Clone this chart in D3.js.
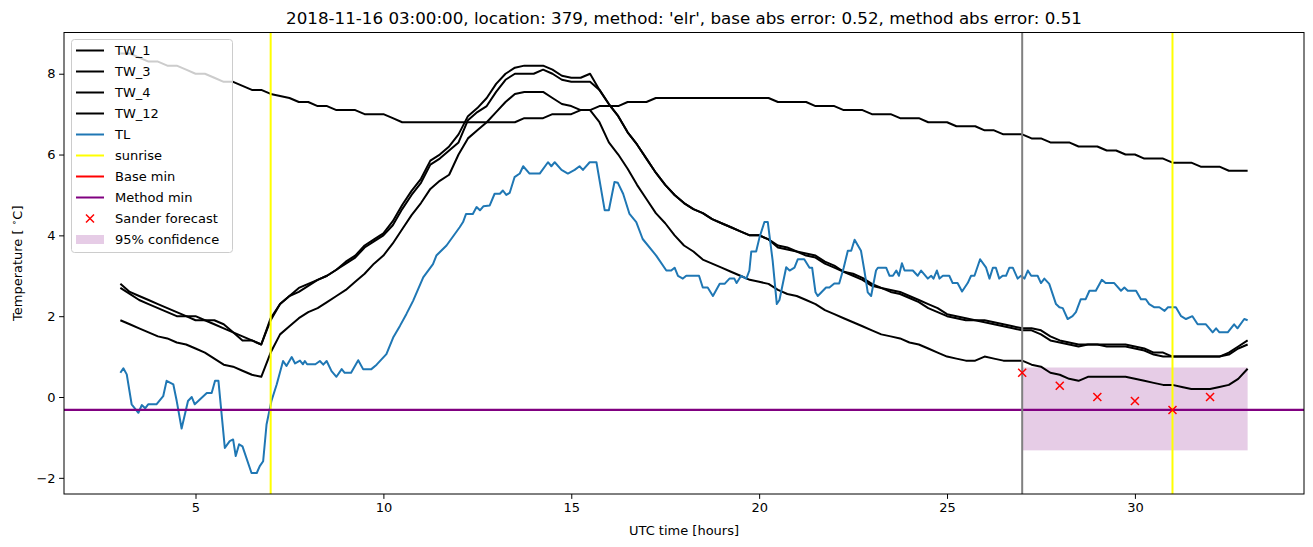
<!DOCTYPE html>
<html><head><meta charset="utf-8">
<script src="https://cdn.jsdelivr.net/npm/d3@7"></script>
<style>body{margin:0;background:#fff}svg{display:block}text{font-family:"DejaVu Sans",sans-serif}</style>
</head><body><svg id="c" width="1313" height="547"></svg>
<script>
const titleText = "2018-11-16 03:00:00, location: 379, method: 'elr', base abs error: 0.52, method abs error: 0.51";
const xTicks = [5, 10, 15, 20, 25, 30];
const yTicks = [-2, 0, 2, 4, 6, 8];
const twHours = [3,3.25,3.5,3.75,4,4.25,4.5,4.75,5,5.25,5.5,5.75,6,6.25,6.5,6.75,7,7.25,7.5,7.75,8,8.25,8.5,8.75,9,9.25,9.5,9.75,10,10.25,10.5,10.75,11,11.25,11.5,11.75,12,12.25,12.5,12.75,13,13.25,13.5,13.75,14,14.25,14.5,14.75,15,15.25,15.5,15.75,16,16.25,16.5,16.75,17,17.25,17.5,17.75,18,18.25,18.5,18.75,19,19.25,19.5,19.75,20,20.25,20.5,20.75,21,21.25,21.5,21.75,22,22.25,22.5,22.75,23,23.25,23.5,23.75,24,24.25,24.5,24.75,25,25.25,25.5,25.75,26,26.25,26.5,26.75,27,27.25,27.5,27.75,28,28.25,28.5,28.75,29,29.25,29.5,29.75,30,30.25,30.5,30.75,31,31.25,31.5,31.75,32,32.25,32.5,32.75,33];
const tw1 = [2.8,2.6,2.5,2.4,2.3,2.2,2.1,2.0,2.0,1.9, 1.9,1.8,1.6,1.5,1.4,1.3,1.95,2.3,2.5,2.7, 2.8,2.9,3.0,3.15,3.35,3.5,3.75,3.9,4.05,4.35, 4.75,5.1,5.4,5.85,6.0,6.2,6.5,6.95,7.15,7.4, 7.75,8.0,8.15,8.2,8.2,8.2,8.1,7.95,7.9,7.9, 8.0,7.6,7.25,6.95,6.55,6.25,5.9,5.55,5.25,5.0, 4.8,4.65,4.55,4.4,4.3,4.2,4.1,4.0,4.0,3.9, 3.75,3.7,3.6,3.55,3.5,3.35,3.25,3.1,3.05,2.95, 2.8,2.7,2.65,2.6,2.5,2.4,2.3,2.2,2.05,2.0, 1.95,1.9,1.9,1.85,1.8,1.75,1.7,1.7,1.65,1.5, 1.4,1.35,1.3,1.3,1.3,1.3,1.3,1.3,1.25,1.2, 1.1,1.1,1.0,1.0,1.0,1.0,1.0,1.0,1.1,1.25,1.4];
const tw3 = [2.7,2.55,2.4,2.3,2.2,2.1,2.0,2.0,1.9,1.9, 1.8,1.7,1.6,1.4,1.4,1.3,1.9,2.3,2.5,2.6, 2.75,2.9,3.0,3.15,3.3,3.45,3.7,3.85,4.0,4.25, 4.65,5.0,5.3,5.75,5.9,6.1,6.3,6.85,7.05,7.2, 7.55,7.85,8.0,8.0,8.0,8.1,8.0,7.85,7.8,7.8, 7.8,7.6,7.25,6.95,6.55,6.25,5.9,5.55,5.25,5.0, 4.8,4.65,4.55,4.4,4.3,4.2,4.1,4.0,4.0,3.9, 3.7,3.65,3.6,3.5,3.45,3.3,3.2,3.1,3.0,2.9, 2.75,2.7,2.6,2.55,2.45,2.35,2.2,2.1,2.0,1.95, 1.9,1.9,1.85,1.8,1.75,1.7,1.65,1.65,1.55,1.4, 1.35,1.3,1.25,1.3,1.3,1.25,1.25,1.25,1.2,1.15, 1.05,1.0,1.0,1.0,1.0,1.0,1.0,1.0,1.05,1.2,1.3];
const tw4 = [1.9,1.8,1.7,1.6,1.5,1.45,1.35,1.3,1.2,1.1, 0.95,0.8,0.75,0.65,0.55,0.5,1.1,1.55,1.75,1.95, 2.1,2.2,2.35,2.5,2.65,2.85,3.05,3.3,3.5,3.8, 4.15,4.5,4.8,5.15,5.35,5.5,6.0,6.4,6.6,6.8, 7.05,7.3,7.5,7.55,7.55,7.55,7.4,7.25,7.2,7.1, 7.1,6.8,6.3,6.0,5.65,5.25,4.9,4.55,4.3,4.0, 3.75,3.6,3.4,3.3,3.2,3.1,3.0,2.9,2.85,2.8, 2.65,2.55,2.5,2.4,2.3,2.15,2.05,1.95,1.85,1.75, 1.65,1.55,1.5,1.45,1.35,1.3,1.2,1.1,1.0,0.95, 0.9,0.9,1.0,0.95,0.9,0.9,0.9,0.8,0.75,0.6, 0.55,0.45,0.4,0.5,0.5,0.5,0.5,0.5,0.45,0.4, 0.35,0.3,0.3,0.25,0.2,0.2,0.2,0.25,0.3,0.45,0.7];
const tw12 = [8.5,8.5,8.4,8.3,8.3,8.2,8.2,8.1,8.0,8.0, 7.9,7.8,7.8,7.7,7.6,7.6,7.5,7.45,7.4,7.3, 7.3,7.2,7.2,7.1,7.1,7.1,7.0,7.0,7.0,6.9, 6.8,6.8,6.8,6.8,6.8,6.8,6.8,6.8,6.8,6.8, 6.8,6.8,6.8,6.9,6.9,6.9,7.0,7.0,7.0,7.1, 7.1,7.2,7.2,7.2,7.3,7.3,7.3,7.4,7.4,7.4, 7.4,7.4,7.4,7.4,7.4,7.4,7.4,7.4,7.4,7.4, 7.3,7.3,7.3,7.3,7.2,7.2,7.2,7.1,7.1,7.1, 7.0,7.0,7.0,6.9,6.9,6.9,6.8,6.8,6.8,6.7, 6.7,6.7,6.6,6.6,6.5,6.5,6.5,6.4,6.4,6.3, 6.3,6.3,6.2,6.2,6.2,6.1,6.1,6.0,6.0,5.9, 5.9,5.9,5.8,5.8,5.8,5.7,5.7,5.7,5.6,5.6,5.6];
const tlHours = [3.0,3.08,3.17,3.3,3.48,3.57,3.66,3.74,3.96,4.14,4.23,4.41,4.5,4.63,4.8,4.9,4.98,5.3,5.43,5.52,5.61,5.78,5.91,6.0,6.07,6.16,6.25,6.49,6.63,6.71,6.8,6.89,7.02,7.16,7.33,7.42,7.56,7.65,7.78,7.86,7.91,7.97,8.19,8.31,8.4,8.49,8.62,8.75,8.89,8.97,9.14,9.33,9.46,9.68,9.82,10.08,10.26,10.44,10.61,10.79,11.06,11.32,11.41,11.68,12.03,12.12,12.2,12.38,12.48,12.57,12.66,12.83,12.96,13.1,13.18,13.27,13.36,13.49,13.63,13.72,13.89,14.16,14.38,14.47,14.56,14.74,14.91,15.09,15.22,15.31,15.49,15.67,15.89,16.0,16.15,16.24,16.38,16.55,16.73,16.9,17.26,17.53,17.66,17.75,17.84,17.97,18.06,18.4,18.5,18.63,18.77,18.95,19.08,19.21,19.34,19.4,19.52,19.66,19.74,19.79,19.92,20.01,20.14,20.23,20.36,20.47,20.54,20.72,20.81,20.94,21.03,21.2,21.34,21.41,21.5,21.56,21.78,21.87,22.0,22.13,22.25,22.36,22.45,22.54,22.71,22.8,22.89,22.98,23.11,23.16,23.38,23.47,23.56,23.65,23.72,23.8,23.87,24.09,24.22,24.31,24.49,24.58,24.64,24.73,24.8,24.89,25.06,25.15,25.28,25.4,25.55,25.64,25.73,25.88,26.04,26.13,26.22,26.3,26.39,26.48,26.57,26.66,26.75,26.88,26.97,27.06,27.15,27.24,27.41,27.5,27.59,27.72,27.9,27.99,28.08,28.21,28.34,28.43,28.56,28.69,28.79,28.96,29.12,29.22,29.45,29.63,29.72,29.81,30.03,30.16,30.29,30.38,30.52,30.65,30.79,30.88,31.09,31.23,31.36,31.53,31.67,31.89,32.07,32.16,32.25,32.47,32.64,32.73,32.91,33.0];
const tlTemps = [0.6,0.71,0.56,-0.18,-0.39,-0.2,-0.28,-0.18,-0.18,0.02,0.4,0.31,-0.1,-0.78,-0.1,0.0,-0.18,0.1,0.1,0.4,0.4,-1.26,-1.09,-1.05,-1.46,-1.17,-1.22,-1.88,-1.88,-1.71,-1.59,-0.68,-0.1,0.31,0.89,0.77,0.99,0.83,0.9,0.81,0.89,0.81,0.81,0.89,0.8,0.89,0.64,0.5,0.69,0.6,0.6,0.91,0.69,0.69,0.8,1.06,1.47,1.76,2.05,2.38,2.96,3.29,3.5,3.75,4.2,4.33,4.53,4.53,4.7,4.62,4.72,4.74,5.03,5.03,5.11,5.0,5.05,5.44,5.53,5.71,5.53,5.53,5.81,5.71,5.81,5.62,5.53,5.62,5.71,5.62,5.81,5.81,4.62,4.62,5.32,5.3,5.03,4.53,4.33,3.91,3.5,3.13,3.13,3.2,3.0,2.93,3.0,3.0,2.71,2.71,2.5,2.8,2.8,2.93,2.93,2.82,3.0,2.93,3.13,3.6,3.6,3.95,4.33,4.33,3.37,2.3,2.4,3.21,3.13,3.2,3.41,3.41,3.2,3.2,2.59,2.5,2.71,2.71,2.81,2.81,3.2,3.62,3.62,3.89,3.62,3.13,2.59,2.5,3.13,3.2,3.2,3.0,3.0,3.13,3.0,3.31,3.13,3.13,3.0,3.13,2.93,3.0,2.93,3.13,2.93,3.0,3.0,2.82,2.82,2.61,2.82,3.0,3.0,3.41,3.2,2.93,3.2,3.2,2.93,3.0,3.0,3.2,3.2,2.93,3.0,2.93,3.13,3.0,3.0,2.82,2.93,2.8,2.3,2.22,2.2,1.93,2.0,2.1,2.42,2.42,2.63,2.63,2.9,2.82,2.82,2.63,2.71,2.63,2.63,2.42,2.42,2.3,2.22,2.22,2.13,2.22,2.22,2.0,1.93,2.0,1.8,1.8,1.6,1.7,1.6,1.6,1.8,1.7,1.93,1.9];
const sunriseHours = [7, 31];
const forecastTime = 27;
const baseMin = -0.32;
const methodMin = -0.32;
const sanderHours = [27, 28, 29, 30, 31, 32];
const sanderTemps = [0.6, 0.28, 0.0, -0.1, -0.32, 0.0];
const confHours = [27, 33];
const confRange = [-1.32, 0.73];
const legendLabels = ["TW_1", "TW_3", "TW_4", "TW_12", "TL", "sunrise", "Base min", "Method min", "Sander forecast", "95% confidence"];

const svg = d3.select("#c");
const L = 64, R = 1304, T = 32.5, B = 494;
const x = d3.scaleLinear().domain([1.5, 34.5]).range([L, R]);
const y = d3.scaleLinear().domain([-2.40, 9.02]).range([B, T]);
const FS = 13;
const LW = 2;

svg.append("defs").append("clipPath").attr("id", "clip")
  .append("rect").attr("x", L).attr("y", T).attr("width", R - L).attr("height", B - T);
const g = svg.append("g").attr("clip-path", "url(#clip)");

g.append("rect").attr("x", x(confHours[0])).attr("width", x(confHours[1]) - x(confHours[0]))
  .attr("y", y(confRange[1])).attr("height", y(confRange[0]) - y(confRange[1]))
  .attr("fill", "purple").attr("fill-opacity", 0.2);

const line = d3.line().x(d => x(d[0])).y(d => y(d[1]));
[tw1, tw3, tw4, tw12].forEach(s => {
  g.append("path").attr("d", line(twHours.map((h, i) => [h, s[i]])))
    .attr("fill", "none").attr("stroke", "black").attr("stroke-width", LW).attr("stroke-linejoin", "round");
});
g.append("path").attr("d", line(tlHours.map((h, i) => [h, tlTemps[i]])))
  .attr("fill", "none").attr("stroke", "#1f77b4").attr("stroke-width", LW).attr("stroke-linejoin", "round");

sunriseHours.forEach(h => g.append("line").attr("x1", x(h)).attr("x2", x(h)).attr("y1", T).attr("y2", B)
  .attr("stroke", "yellow").attr("stroke-width", LW));
g.append("line").attr("x1", L).attr("x2", R).attr("y1", y(baseMin)).attr("y2", y(baseMin)).attr("stroke", "red").attr("stroke-width", 1.2);
g.append("line").attr("x1", L).attr("x2", R).attr("y1", y(methodMin)).attr("y2", y(methodMin)).attr("stroke", "purple").attr("stroke-width", 2.2);
g.append("line").attr("x1", x(forecastTime)).attr("x2", x(forecastTime)).attr("y1", T).attr("y2", B)
  .attr("stroke", "grey").attr("stroke-width", LW);

const mk = 4;
sanderHours.forEach((h, i) => {
  const cx = x(h), cy = y(sanderTemps[i]);
  g.append("path").attr("d", `M${cx-mk},${cy-mk}L${cx+mk},${cy+mk}M${cx-mk},${cy+mk}L${cx+mk},${cy-mk}`)
    .attr("stroke", "red").attr("stroke-width", 1.5).attr("fill", "none");
});

const xa = svg.append("g").attr("transform", `translate(0,${B})`)
  .call(d3.axisBottom(x).tickValues(xTicks).tickSize(4.9).tickPadding(3.5).tickFormat(d3.format("d")));
const ya = svg.append("g").attr("transform", `translate(${L},0)`)
  .call(d3.axisLeft(y).tickValues(yTicks).tickSize(4.9).tickPadding(3.5).tickFormat(d => d < 0 ? "\u2212" + Math.abs(d) : d));
[xa, ya].forEach(a => {
  a.select(".domain").remove();
  a.selectAll("line").attr("stroke", "black").attr("stroke-width", 1);
  a.selectAll("text").attr("font-size", FS).attr("font-family", "DejaVu Sans").attr("fill", "black");
});
svg.append("rect").attr("x", L).attr("y", T).attr("width", R - L).attr("height", B - T)
  .attr("fill", "none").attr("stroke", "black").attr("stroke-width", 1);

svg.append("text").attr("x", (L + R) / 2).attr("y", 24).attr("text-anchor", "middle")
  .attr("font-size", 16.7).text(titleText);
svg.append("text").attr("x", (L + R) / 2).attr("y", 535).attr("text-anchor", "middle")
  .attr("font-size", FS).text("UTC time [hours]");
const yl = svg.append("text").attr("transform", `translate(22,${(T + B) / 2}) rotate(-90)`)
  .attr("text-anchor", "middle").attr("font-size", FS);
yl.append("tspan").text("Temperature [ ");
yl.append("tspan").attr("font-size", 9).attr("dy", -5).text("\u2218");
yl.append("tspan").attr("dy", 5).text("C]");

const lg = svg.append("g");
lg.append("rect").attr("x", 71.5).attr("y", 39.5).attr("width", 161).attr("height", 213).attr("rx", 3)
  .attr("fill", "white").attr("fill-opacity", 0.8).attr("stroke", "#cccccc").attr("stroke-width", 1);
const handles = [
  {t: "line", c: "black"}, {t: "line", c: "black"}, {t: "line", c: "black"}, {t: "line", c: "black"},
  {t: "line", c: "#1f77b4"}, {t: "line", c: "yellow"}, {t: "line", c: "red"}, {t: "line", c: "purple"},
  {t: "x", c: "red"}, {t: "patch", c: "purple"}
];
legendLabels.forEach((lab, i) => {
  const cy = 50.5 + i * 21.0;
  const h = handles[i];
  if (h.t === "line") lg.append("line").attr("x1", 76).attr("x2", 104).attr("y1", cy).attr("y2", cy).attr("stroke", h.c).attr("stroke-width", LW);
  else if (h.t === "x") lg.append("path").attr("d", `M${90-mk},${cy-mk}L${90+mk},${cy+mk}M${90-mk},${cy+mk}L${90+mk},${cy-mk}`).attr("stroke", h.c).attr("stroke-width", 1.5);
  else lg.append("rect").attr("x", 76).attr("y", cy - 4.5).attr("width", 28).attr("height", 9).attr("fill", h.c).attr("fill-opacity", 0.2);
  lg.append("text").attr("x", 115).attr("y", cy).attr("dy", "0.35em").attr("font-size", FS).text(lab);
});
</script></body></html>
